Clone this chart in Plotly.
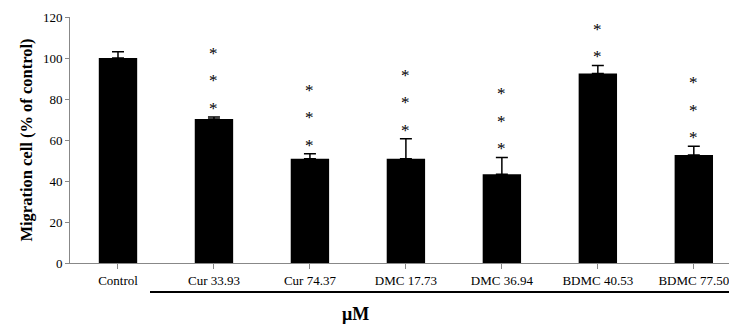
import plotly.graph_objects as go

categories = ["Control", "Cur 33.93", "Cur 74.37", "DMC 17.73", "DMC 36.94", "BDMC 40.53", "BDMC 77.50"]
values = [100.0, 70.2, 50.8, 50.8, 43.3, 92.4, 52.7]
errors = [3.0, 1.0, 2.5, 9.8, 8.2, 4.0, 4.2]
star_counts = [0, 3, 3, 3, 3, 2, 3]
y_ticks = [0, 20, 40, 60, 80, 100, 120]

FONT = "Liberation Serif, Times New Roman, serif"

# page body has an 8px margin; figure is sized to fit the 737x325 window
W, H = 729, 317
PL, PT, PB = 62, 9, 62
PW = W - PL
PH = H - PT - PB

fig = go.Figure()
fig.add_trace(go.Bar(
    x=list(range(len(categories))), y=values, width=0.4,
    marker=dict(color="black", line=dict(width=0)),
    error_y=dict(type="data", array=errors, arrayminus=[0]*len(errors), symmetric=False,
                 color="black", thickness=1.5, width=6),
    showlegend=False,
))

annotations = []
for i, (v, e, n) in enumerate(zip(values, errors, star_counts)):
    for k in range(n):
        annotations.append(dict(
            x=i, y=v + e + 6.2 + 13.4 * k, xref="x", yref="y", text="*",
            showarrow=False, font=dict(family=FONT, size=17, color="black"),
            yanchor="middle", yshift=-4,
        ))
annotations.append(dict(
    x=(347 - PL) / PW, y=-PB / PH, xref="paper", yref="paper", text="<b>μM</b>",
    showarrow=False, font=dict(family=FONT, size=18, color="black"),
    yanchor="bottom", borderpad=0,
))

fig.update_layout(
    width=W, height=H,
    margin=dict(l=PL, r=0, t=PT, b=PB),
    paper_bgcolor="white", plot_bgcolor="white",
    font=dict(family=FONT, size=13, color="black"),
    annotations=annotations,
    shapes=[dict(type="line", xref="paper", yref="paper", x0=(142 - PL) / PW, x1=1.02,
                 y0=-(284 - (PT + PH)) / PH, y1=-(284 - (PT + PH)) / PH,
                 line=dict(color="black", width=2))],
    xaxis=dict(
        tickmode="array", tickvals=list(range(len(categories))), ticktext=categories,
        range=[-0.5, 6.45], showline=True, linecolor="#888888", linewidth=1,
        ticks="outside", tickson="boundaries", ticklen=5, tickcolor="#888888",
        showgrid=False, zeroline=False, tickfont=dict(family=FONT, size=13),
    ),
    yaxis=dict(
        range=[0, 120], tickvals=y_ticks, showline=True, linecolor="#888888", linewidth=1,
        ticks="outside", ticklen=4, tickcolor="#888888", showgrid=False, zeroline=False,
        tickfont=dict(family=FONT, size=13),
        title=dict(text="<b>Migration cell (% of control)</b>", font=dict(family=FONT, size=16.5), standoff=6),
    ),
)

fig.write_html("out.html")
